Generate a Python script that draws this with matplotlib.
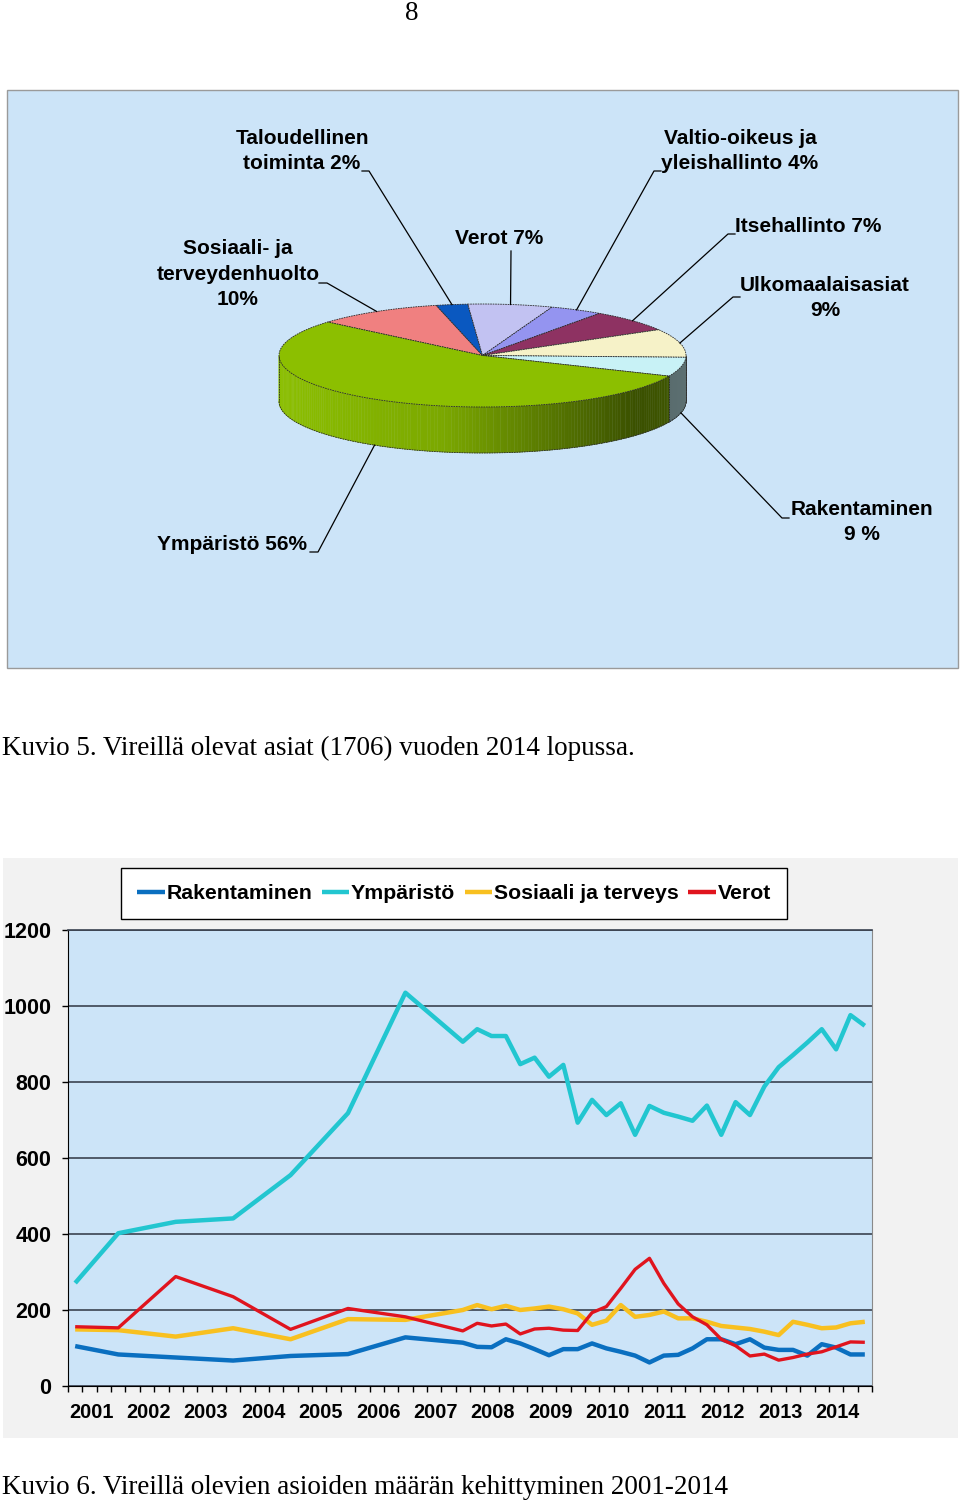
import numpy as np
import matplotlib
matplotlib.use("Agg")
import matplotlib.pyplot as plt
from matplotlib.patches import Rectangle, Polygon
from matplotlib.collections import PolyCollection
from matplotlib.colors import to_rgb

# --- Kuvio 5: pending cases by category, end of 2014 (1706 cases) ---
pie_labels = ["Sosiaali- ja\nterveydenhuolto\n10%", "Taloudellinen\ntoiminta 2%", "Verot 7%",
              "Valtio-oikeus ja\nyleishallinto 4%", "Itsehallinto 7%", "Ulkomaalaisasiat\n9%",
              "Rakentaminen\n9 %", "Ympäristö 56%"]
pie_values = [10.1, 2.5, 6.7, 4.2, 6.9, 8.9, 6.0, 54.7]
pie_colors = ["#f08080", "#0a58c0", "#c2c2f2", "#9494f0", "#8e3262", "#f6f2c8", "#c8f2f6", "#8cbf00"]

# --- Kuvio 6: number of pending cases 2001-2014 (quarter index, 0 = 2001 Q1) ---
years = ["2001", "2002", "2003", "2004", "2005", "2006", "2007",
         "2008", "2009", "2010", "2011", "2012", "2013", "2014"]
quarter = [0, 3, 7, 11, 15, 19, 23, 27, 28, 29, 30, 31, 32, 33, 34, 35, 36, 37, 38, 39,
           40, 41, 42, 43, 44, 45, 46, 47, 48, 49, 50, 51, 52, 53, 54, 55]
rakentaminen = [105, 83, 75, 67, 79, 84, 128, 114, 103, 102, 123, 112, 97, 81, 97, 97, 112, 99,
                90, 80, 62, 80, 82, 99, 123, 123, 110, 123, 101, 95, 95, 80, 110, 101, 83, 83]
ymparisto = [271, 402, 432, 441, 555, 718, 1035, 906, 939, 921, 921, 847, 864, 814, 845, 693,
             753, 713, 744, 661, 737, 719, 709, 698, 738, 661, 747, 713, 788, 839, 871, 904,
             939, 886, 976, 948]
sosiaali = [149, 147, 130, 152, 123, 176, 174, 200, 213, 202, 211, 200, 204, 209, 202, 191,
            161, 172, 213, 182, 187, 196, 178, 178, 169, 158, 154, 150, 143, 134, 169, 161,
            152, 154, 165, 169]
verot = [156, 153, 288, 235, 149, 204, 182, 145, 165, 158, 163, 137, 150, 152, 147, 146,
         193, 209, 257, 307, 336, 270, 216, 182, 161, 123, 106, 79, 84, 68, 75, 84, 90,
         103, 116, 115]
series = [("Rakentaminen", rakentaminen, "#0a6fc0", 3.2),
          ("Ympäristö", ymparisto, "#22c6d0", 3.2),
          ("Sosiaali ja terveys", sosiaali, "#f8c020", 3.2),
          ("Verot", verot, "#e0141e", 2.4)]

W, H = 960, 1504
fig = plt.figure(figsize=(W / 100, H / 100), dpi=100)
bg = fig.add_axes([0, 0, 1, 1])
bg.set_xlim(0, W)
bg.set_ylim(H, 0)
bg.axis("off")

bold = dict(family="Liberation Sans", fontweight="bold", fontsize=15)
serif = dict(family="Liberation Serif", fontsize=19.5)

bg.text(412, 13, "8", ha="center", va="center", **serif)

# pie panel
bg.add_patch(Rectangle((7, 90), 951, 578, facecolor="#cce4f8", edgecolor="#9a9a9a", lw=1))

cx, cy, rx, ry, depth = 482.5, 355.5, 203.5, 51.5, 46
start = 139.5
bounds = start - 360 * np.concatenate([[0], np.cumsum(pie_values)]) / sum(pie_values)


def ex(t):
    return cx + rx * np.cos(np.radians(t))


def ey(t):
    return cy - ry * np.sin(np.radians(t))


def shade(x):
    s = (x - (cx - rx)) / (2 * rx)
    return np.interp(s, [0, 0.4, 0.88, 1], [1.0, 0.88, 0.42, 0.46])


edge = dict(edgecolor="#2a2a2a", lw=0.6, ls=(0, (2, 1)))

# side wall of the 3D pie
quads, cols = [], []
for k, col in enumerate(pie_colors):
    ts = np.linspace(bounds[k + 1], bounds[k], 200)
    for a, b in zip(ts[:-1], ts[1:]):
        if np.sin(np.radians((a + b) / 2)) < 0:
            quads.append([(ex(a), ey(a)), (ex(b), ey(b)), (ex(b), ey(b) + depth), (ex(a), ey(a) + depth)])
            cols.append(np.array(to_rgb(col)) * shade(ex((a + b) / 2)))
bg.add_collection(PolyCollection(quads, facecolors=cols, edgecolors=cols, lw=0.3, zorder=2))

tf = np.linspace(-180, 0, 300)
bg.plot(ex(tf), ey(tf) + depth, color="#2a2a2a", lw=0.6, ls=(0, (2, 1)), zorder=4)
for t in [-180, 0] + [b for b in bounds if -180 < ((b + 180) % 360) - 180 < 0]:
    bg.plot([ex(t), ex(t)], [ey(t), ey(t) + depth], color="#2a2a2a", lw=0.6, ls=(0, (2, 1)), zorder=4)

# top face
for k, col in enumerate(pie_colors):
    ts = np.linspace(bounds[k + 1], bounds[k], 120)
    pts = [(cx, cy)] + list(zip(ex(ts), ey(ts)))
    bg.add_patch(Polygon(pts, closed=True, facecolor=col, zorder=3, **edge))

# labels with leader lines
label_pos = [(238, 274), (302, 151), (499, 238), (740, 151), (808, 226), (825, 298), (862, 522), (232, 544)]
leader_start = [[(319, 283), (327, 283)], [(362, 171), (369, 171)], [(511, 251)],
                [(661, 171), (654, 171)], [(735, 234), (728, 234)], [(740, 297), (733, 297)],
                [(789, 518), (782, 518)], [(310, 552), (318, 552)]]
for k, lab in enumerate(pie_labels):
    m = (bounds[k] + bounds[k + 1]) / 2
    endx, endy = ex(m), ey(m) + (depth if np.sin(np.radians(m)) < 0 else 0)
    pts = leader_start[k] + [(endx, endy)]
    bg.plot([p[0] for p in pts], [p[1] for p in pts], color="black", lw=0.9, zorder=5)
    bg.text(label_pos[k][0], label_pos[k][1], lab, ha="center", va="center",
            linespacing=1.42, zorder=6, **bold)

bg.text(2, 748, "Kuvio 5. Vireillä olevat asiat (1706) vuoden 2014 lopussa.",
        ha="left", va="center", **serif)

# line chart panel
bg.add_patch(Rectangle((3, 858), 955, 580, facecolor="#f2f2f2", edgecolor="none"))

ax = fig.add_axes([68 / W, (H - 1386) / H, 804 / W, 456 / H])
ax.set_facecolor("#cce4f8")
x = np.array(quarter) + 0.5
for name, vals, col, lw in series:
    ax.plot(x, vals, color=col, lw=lw, label=name, solid_joinstyle="round", solid_capstyle="butt")

ax.set_xlim(0, 56)
ax.set_ylim(0, 1200)
ax.set_yticks([0, 200, 400, 600, 800, 1000, 1200])
ax.yaxis.grid(True, color="#3a4250", lw=1.2)
ax.set_axisbelow(True)
ax.tick_params(axis="y", direction="out", length=4.5, width=1, pad=7.5)
for lab in ax.get_yticklabels():
    lab.set_fontproperties({"family": "Liberation Sans", "weight": "bold", "size": 15.5})

ax.set_xticks(np.arange(0, 57))
ax.set_xticklabels([])
ax.tick_params(axis="x", which="major", direction="out", length=4.5, width=1)
ax.set_xticks(np.arange(len(years)) * 4 + 1.6, minor=True)
ax.set_xticklabels(years, minor=True, family="Liberation Sans", fontweight="bold", fontsize=14.3)
ax.tick_params(axis="x", which="minor", length=0, pad=12)

ax.spines["left"].set_color("black")
ax.spines["bottom"].set_color("black")
ax.spines["top"].set_color("#3a4250")
ax.spines["top"].set_linewidth(1.2)
ax.spines["right"].set_color("#8a8a8a")

leg = fig.legend(loc="center", bbox_to_anchor=(454 / W, 1 - 893.5 / H), ncol=4,
                 prop={"family": "Liberation Sans", "weight": "bold", "size": 15.3},
                 handlelength=1.3, handletextpad=0.08, columnspacing=0.45,
                 fancybox=False, edgecolor="black", framealpha=1, borderpad=0.75)
leg.get_frame().set_linewidth(1)
for h in leg.get_lines():
    h.set_linewidth(3.2)

bg.text(2, 1487, "Kuvio 6. Vireillä olevien asioiden määrän kehittyminen 2001-2014",
        ha="left", va="center", **serif)

fig.savefig("out.png", dpi=100)
